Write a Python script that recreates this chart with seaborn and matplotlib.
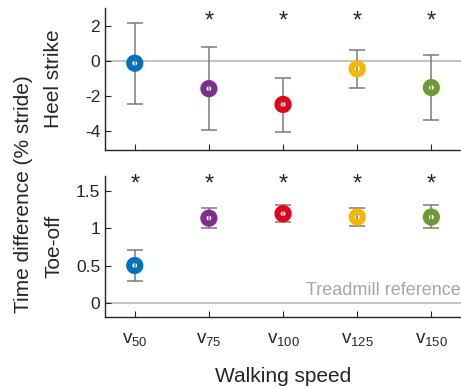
import matplotlib
matplotlib.use("Agg")
import matplotlib.pyplot as plt
import seaborn as sns
import pandas as pd

speeds = ["v$_{\\mathregular{50}}$", "v$_{\\mathregular{75}}$", "v$_{\\mathregular{100}}$",
          "v$_{\\mathregular{125}}$", "v$_{\\mathregular{150}}$"]
colors = ["#0072BD", "#7E2F8E", "#E3001B", "#F5B800", "#6E9A33"]

heel_mean = [-0.15, -1.6, -2.5, -0.47, -1.54]
heel_low = [-2.45, -3.95, -4.06, -1.54, -3.41]
heel_high = [2.15, 0.75, -0.97, 0.59, 0.34]
heel_sig = [False, True, True, True, True]

toe_mean = [0.5, 1.135, 1.195, 1.15, 1.15]
toe_low = [0.295, 1.0, 1.08, 1.025, 1.0]
toe_high = [0.71, 1.27, 1.31, 1.27, 1.305]
toe_sig = [True, True, True, True, True]

sns.set_theme(style="ticks")
plt.rcParams["font.family"] = ["Liberation Sans", "DejaVu Sans"]
plt.rcParams["mathtext.fontset"] = "custom"
plt.rcParams["mathtext.rm"] = "Liberation Sans"
plt.rcParams["mathtext.it"] = "Liberation Sans"

fig = plt.figure(figsize=(4.61, 3.89), dpi=100)
ax1 = fig.add_axes([0.228, 1 - 150 / 389, 1 - 0.228, 142 / 389])
ax2 = fig.add_axes([0.228, 1 - 317 / 389, 1 - 0.228, 141 / 389])

def panel(ax, mean, low, high, sig, ylim, yticks, ytl, star_y, label):
    df = pd.DataFrame({"x": range(len(mean)), "y": mean, "c": speeds})
    ax.axhline(0, color="#c4c4c4", lw=1.5, zorder=0)
    for i in range(len(mean)):
        ax.errorbar(i, mean[i], yerr=[[mean[i] - low[i]], [high[i] - mean[i]]],
                    fmt="none", ecolor="#7a7a7a", elinewidth=1.1, capsize=5.5,
                    capthick=1.1, zorder=1)
    sns.scatterplot(data=df, x="x", y="y", hue="c", palette=colors, ax=ax,
                    s=64, linewidth=0, legend=False, zorder=2)
    pts = ax.collections[-1]
    pts.set_facecolor("none")
    pts.set_edgecolor(colors)
    pts.set_linewidth(4.4)
    for i, s in enumerate(sig):
        if s:
            ax.text(i, star_y, "*", ha="center", va="center", fontsize=17)
    ax.set_xlim(-0.4, 4.4)
    ax.set_ylim(*ylim)
    ax.set_yticks(yticks)
    ax.set_yticklabels(ytl)
    ax.set_xticks(range(5))
    ax.set_ylabel(label, fontsize=15)
    ax.yaxis.set_label_coords(-0.117, 0.5)
    ax.set_xlabel("")
    sns.despine(ax=ax)
    ax.tick_params(direction="in", length=4, width=0.8, labelsize=12.5,
                   colors="#262626")
    for sp in ["left", "bottom"]:
        ax.spines[sp].set_color("#262626")
        ax.spines[sp].set_linewidth(1.0)

panel(ax1, heel_mean, heel_low, heel_high, heel_sig, (-5.1, 3.0),
      [-4, -2, 0, 2], ["-4", "-2", "0", "2"], 2.25, "Heel strike")
ax1.set_xticklabels([])
panel(ax2, toe_mean, toe_low, toe_high, toe_sig, (-0.19, 1.7),
      [0, 0.5, 1, 1.5], ["0", "0.5", "1", "1.5"], 1.58, "Toe-off")
ax2.set_xticklabels(speeds, fontsize=13.5)
ax2.tick_params(axis="x", pad=10)
ax2.set_xlabel("Walking speed", fontsize=15, labelpad=14)
ax2.text(4.4, 0.05, "Treadmill reference", ha="right", va="bottom",
         color="#a6a6a6", fontsize=13)

fig.text(0.05, 0.5, "Time difference (% stride)", rotation=90, ha="center",
         va="center", fontsize=15)

fig.savefig("out.png", dpi=100)
